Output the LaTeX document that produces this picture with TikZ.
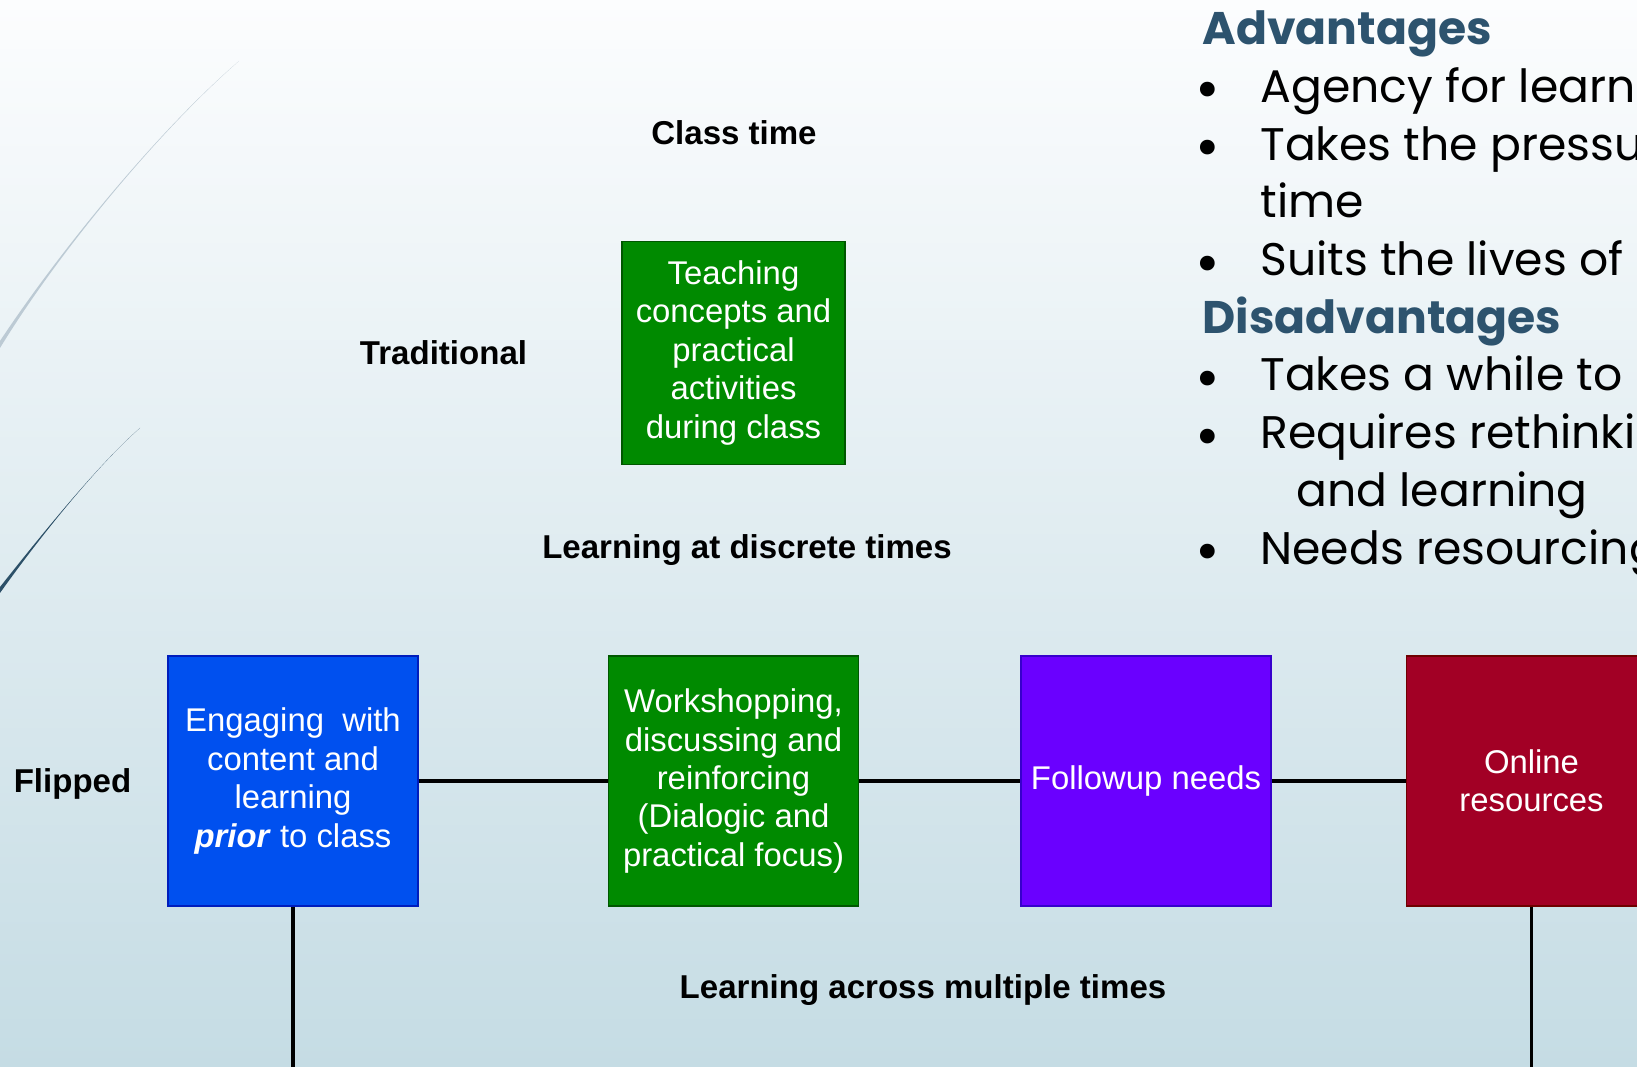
\documentclass[tikz,border=0pt]{standalone}
\usepackage{fontspec}
\setmainfont{Liberation Sans}
\newfontfamily\gothic{Poppins}
\usetikzlibrary{positioning,calc}
\definecolor{bgtop}{RGB}{252,253,254}
\definecolor{bgbot}{RGB}{197,220,228}
\definecolor{hdblue}{RGB}{45,83,110}
\definecolor{arcdark}{RGB}{44,80,104}
\definecolor{arclight}{RGB}{188,202,212}
\definecolor{dblue}{RGB}{0,80,239}
\definecolor{dblueln}{RGB}{0,29,188}
\definecolor{dgreen}{RGB}{0,138,0}
\definecolor{dgreenln}{RGB}{0,87,0}
\definecolor{dpurple}{RGB}{106,0,255}
\definecolor{dpurpleln}{RGB}{55,0,204}
\definecolor{dred}{RGB}{162,0,37}
\definecolor{dredln}{RGB}{111,0,0}

\begin{document}
\begin{tikzpicture}[font=\fontsize{18.7}{21.9}\selectfont]
\tikzset{
  BX/.style={rectangle,minimum width=5.0cm,minimum height=5.0cm,line width=0.8pt,text=white,align=center,inner sep=2pt},
  BLU/.style={BX,fill=dblue,draw=dblueln},
  GRN/.style={BX,fill=dgreen,draw=dgreenln},
  PRP/.style={BX,fill=dpurple,draw=dpurpleln},
  RED/.style={BX,fill=dred,draw=dredln},
  LB/.style={font=\fontsize{18.8}{22}\selectfont\bfseries,anchor=base,inner sep=0pt},
  LN/.style={line width=2pt,black},
  HD/.style={font=\gothic\bfseries\fontsize{26}{32}\selectfont,text=hdblue,anchor=base west,inner sep=0pt},
  TX/.style={font=\gothic\fontsize{26}{32}\selectfont,anchor=base west,inner sep=0pt},
  BL/.style={font=\gothic\fontsize{34}{40}\selectfont,anchor=base,inner sep=0pt,yshift=-0.15cm},
}

% slide background
\shade[top color=bgtop,bottom color=bgbot] (0,0) rectangle (32.74,21.34);
\useasboundingbox (0,0) rectangle (32.74,21.34);
\clip (0,0) rectangle (32.74,21.34);

% swooshes on the left
\fill[arclight] (4.78,20.12) .. controls (3.20,18.74) and (1.20,16.34) .. (0,14.38)
  -- (0,14.52) .. controls (1.26,16.42) and (3.23,18.79) .. (4.78,20.12) -- cycle;
\fill[arcdark] (2.80,12.78) .. controls (2.00,12.08) and (0.90,10.74) .. (0,9.48)
  -- (0,9.60) .. controls (0.95,10.80) and (2.02,12.10) .. (2.80,12.78) -- cycle;

% labels
\node[LB](ctime) at (14.68,18.44){Class time};
\node[LB](trad)  at ( 8.87,14.05){Traditional};
\node[LB](disc)  at (14.94,10.17){Learning at discrete times};
\node[LB](flip)  at ( 1.45, 5.49){Flipped};
\node[LB](multi) at (18.46, 1.36){Learning across multiple times};

% traditional
\node[GRN,minimum width=4.46cm,minimum height=4.46cm](teach) at (14.67,14.28){Teaching\\concepts and\\practical\\activities\\during class};

% flipped
\node[BLU](prior)  at ( 5.86,5.72){Engaging~ with\\content and\\learning\\\textbf{\textit{prior}} to class};
\node[GRN](work)   at (14.67,5.72){Workshopping,\\discussing and\\reinforcing\\(Dialogic and\\practical focus)};
\node[PRP](follow) at (22.92,5.72){Followup needs};
\node[RED](online) at (30.63,5.72){Online\\resources};

\coordinate (priorend)  at ( 5.86,-0.1);
\coordinate (onlineend) at (30.63,-0.1);

\draw[LN](prior.east)--(work.west);
\draw[LN](work.east)--(follow.west);
\draw[LN](follow.east)--(online.west);
\draw[LN](prior.south)--(priorend);
\draw[LN](online.south)--(onlineend);

% pros and cons
\node[HD](adv)  at (24.04,20.44){Advantages};
\node[BL](b1)   at (24.16,19.29){\textbullet};
\node[TX](a1)   at (25.20,19.29){Agency for learn};
\node[BL](b2)   at (24.16,18.13){\textbullet};
\node[TX](a2)   at (25.20,18.13){Takes the pressur};
\node[TX](a2b)  at (25.20,16.98){time};
\node[BL](b3)   at (24.16,15.82){\textbullet};
\node[TX](a3)   at (25.20,15.82){Suits the lives of};
\node[HD](dis)  at (24.04,14.67){Disadvantages};
\node[BL](b4)   at (24.16,13.52){\textbullet};
\node[TX](d1)   at (25.20,13.52){Takes a while to};
\node[BL](b5)   at (24.16,12.36){\textbullet};
\node[TX](d2)   at (25.20,12.36){Requires rethinkin};
\node[TX](d2b)  at (25.92,11.21){and learning};
\node[BL](b6)   at (24.16,10.05){\textbullet};
\node[TX](d3)   at (25.20,10.05){Needs resourcing};

\end{tikzpicture}
\end{document}
